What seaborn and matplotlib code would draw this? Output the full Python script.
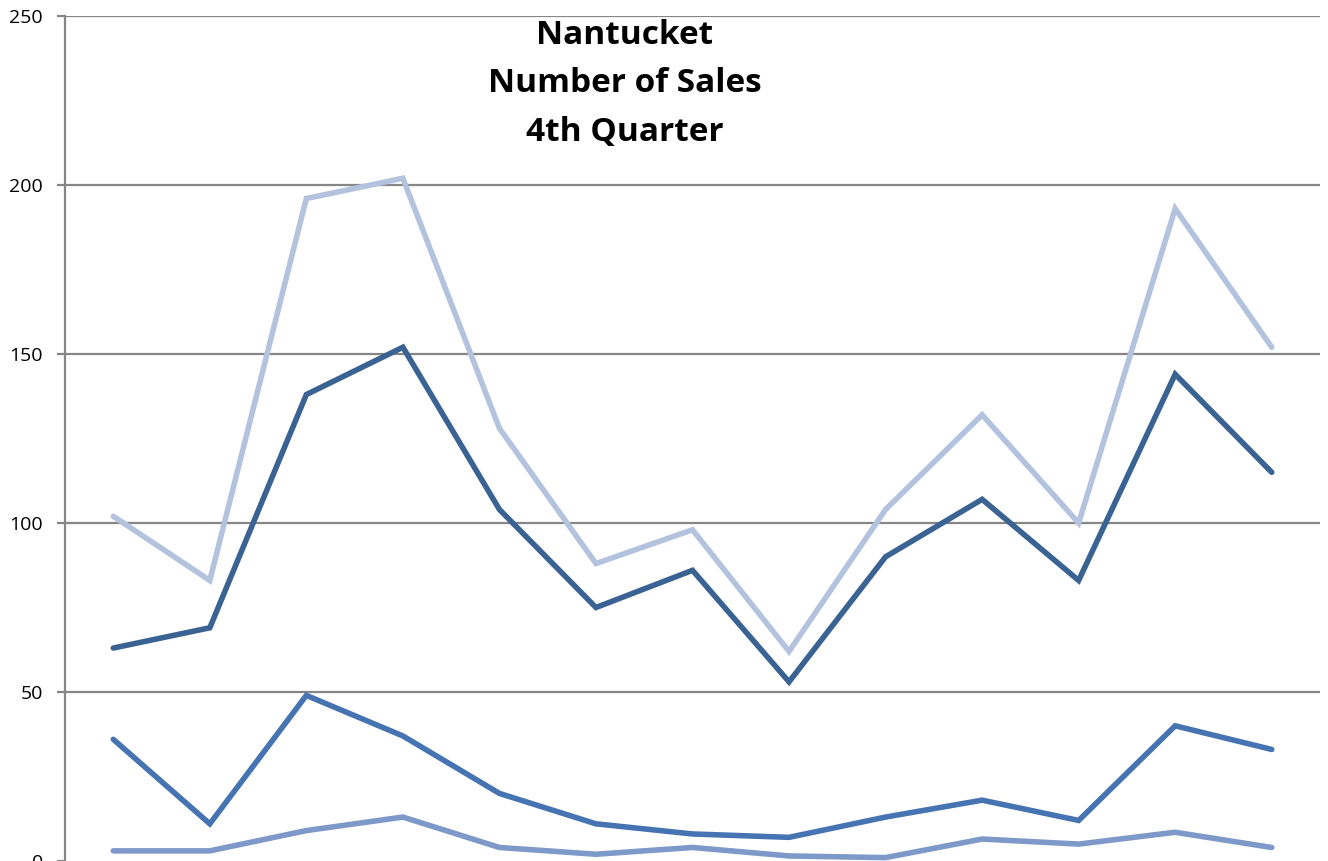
import pandas as pd
import matplotlib.pyplot as plt
import seaborn as sns

# Giá trị (13 kỳ, quý 4)
periods = list(range(13))
series_a = [102, 83, 196, 202, 128, 88, 98, 62, 104, 132, 100, 193, 152]
series_b = [63, 69, 138, 152, 104, 75, 86, 53, 90, 107, 83, 144, 115]
series_c = [36, 11, 49, 37, 20, 11, 8, 7, 13, 18, 12, 40, 33]
series_d = [3, 3, 9, 13, 4, 2, 4, 1.5, 1, 6.5, 5, 8.5, 4]
names = ['A', 'B', 'C', 'D']
colors = ['#B3C3DE', '#3A6394', '#4674B2', '#7C99C9']

df = pd.DataFrame({'period': periods * 4,
                   'sales': series_a + series_b + series_c + series_d,
                   'series': [n for n in names for _ in periods]})

sns.set_style('white')
plt.rcParams['font.family'] = ['Open Sans', 'DejaVu Sans']

fig = plt.figure(figsize=(13.28, 8.61), dpi=100)
ax = fig.add_axes([65 / 1328, 0, (1320 - 65) / 1328, (861 - 16) / 861])

grid_col = '#868686'
for yv in [50, 100, 150, 200, 250]:
    ax.axhline(yv, color=grid_col, lw=1.6, zorder=0)

sns.lineplot(data=df, x='period', y='sales', hue='series', palette=colors,
             linewidth=4.0, legend=False, ax=ax, zorder=3)
for ln in ax.lines:
    ln.set_solid_capstyle('round')
    ln.set_solid_joinstyle('miter')

ax.set_xlim(-0.5, 12.5)
ax.set_ylim(0, 250)
ax.set_yticks([0, 50, 100, 150, 200, 250])
ax.set_xticks([])
ax.set_xlabel('')
ax.set_ylabel('')
ax.tick_params(axis='y', length=6, width=1.6, color=grid_col, labelsize=14,
               labelcolor='black', pad=10, left=True)
for s in ['top', 'right', 'bottom']:
    ax.spines[s].set_visible(False)
ax.spines['left'].set_color(grid_col)
ax.spines['left'].set_linewidth(1.6)

fig.text(625 / 1328, 1 - 84 / 861, 'Nantucket\nNumber of Sales\n4th Quarter',
         ha='center', va='center', fontsize=24, fontweight='bold', color='black',
         linespacing=1.62)

fig.savefig('out.png', dpi=100)
